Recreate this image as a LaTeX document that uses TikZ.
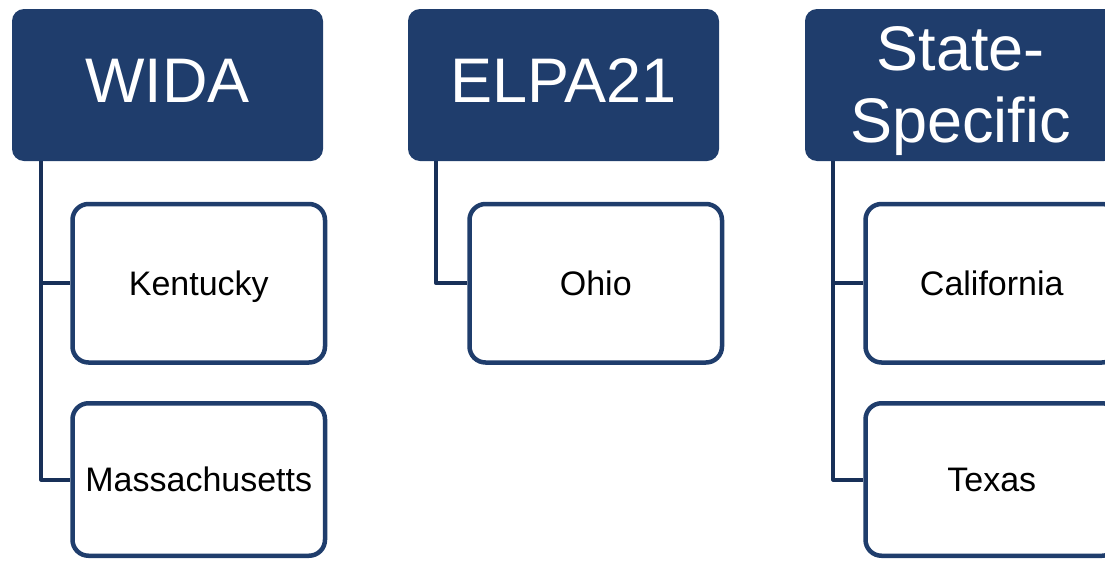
\documentclass[tikz,border=0pt]{standalone}
\usepackage{fontspec}
\setmainfont{Liberation Sans}
\usetikzlibrary{calc,backgrounds}
\definecolor{navy}{RGB}{31,61,108}
\definecolor{linenavy}{RGB}{24,48,88}
\tikzset{
  header/.style={rectangle, rounded corners=12pt, fill=navy, text=white,
    minimum width=311pt, minimum height=152pt, inner sep=0pt,
    font=\fontsize{63}{72}\selectfont, align=center},
  child/.style={rectangle, rounded corners=16pt, draw=navy, fill=white, line width=4.5pt,
    minimum width=252.5pt, inner sep=0pt, text=black,
    font=\fontsize{34}{40}\selectfont, text height=24.4pt, text depth=0pt},
  conn/.style={draw=linenavy, line width=4pt, line join=round}
}
\begin{document}
\begin{tikzpicture}[x=1pt,y=-1pt]
\useasboundingbox (0,0) rectangle (1105,560);
\clip (0,0) rectangle (1105,560);
% headers
\node[header, text depth=9pt] (wida) at (167.5,85) {WIDA};
\node[header, text depth=9pt] (elpa) at (563.5,85) {ELPA21};
\node[header] (state) at (960.5,85) {\raisebox{-7pt}[\height][\depth]{\begin{tabular}{@{}c@{}}State-\\Specific\end{tabular}}};
% connector start points
\coordinate (w0) at ($(wida.south west)+(29.5,-2.5)$);
\coordinate (e0) at ($(elpa.south west)+(28.5,-2.5)$);
\coordinate (s0) at ($(state.south west)+(28.5,-2.5)$);
% children
\node[child, minimum height=158.5pt] (ken) at (198.75,283.25) {Kentucky};
\node[child, minimum height=152.5pt] (mass) at (198.75,479.5) {Massachusetts};
\node[child, minimum height=158.5pt] (ohio) at (595.75,283.25) {Ohio};
\node[child, minimum height=158.5pt] (cal) at (991.75,283.25) {California};
\node[child, minimum height=152.5pt] (tex) at (991.75,479.5) {Texas};
% connectors behind the boxes
\begin{pgfonlayer}{background}
\path[conn] (w0) |- (ken.west);
\path[conn] (w0) |- (mass.west);
\path[conn] (e0) |- (ohio.west);
\path[conn] (s0) |- (cal.west);
\path[conn] (s0) |- (tex.west);
\end{pgfonlayer}
\end{tikzpicture}
\end{document}
